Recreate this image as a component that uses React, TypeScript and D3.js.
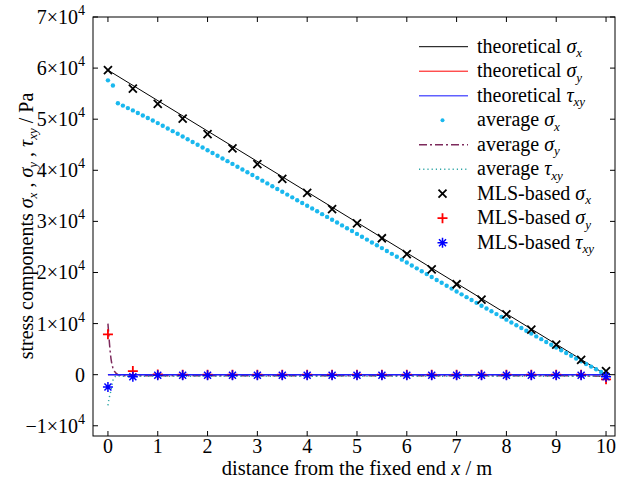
import React from "react";
import * as d3 from "d3";

// MLS sample positions and values
const xMls = [0, 0.5, 1, 1.5, 2, 2.5, 3, 3.5, 4, 4.5, 5, 5.5, 6, 6.5, 7, 7.5, 8, 8.5, 9, 9.5, 10];
const mlsSx = [59600, 56000, 53000, 50100, 47100, 44300, 41200, 38300, 35600, 32400, 29600, 26700, 23600, 20600, 17700, 14700, 11800, 8800, 5900, 2900, 700];
const mlsSy = [7900, 700, 50, 0, 0, 0, 0, 0, 0, 0, 0, 0, 0, 0, 0, 0, 0, 0, 0, 0, -900];
const mlsTxy = [-2400, -400, -100, -100, -100, -100, -100, -100, -100, -100, -100, -100, -100, -100, -100, -100, -100, -100, -100, -100, -400];

// theoretical solution
const thX = [0, 10];
const thSx = [59600, 0];
const thSy = [0, 0];
const thTxy = [0, 0];

// averaged nodal stresses
const avgX = [
  0, 0.1, 0.2, 0.3, 0.4, 0.5, 0.6, 0.7, 0.8, 0.9, 1, 1.1, 1.2, 1.3, 1.4, 1.5, 1.6, 1.7, 1.8, 1.9,
  2, 2.1, 2.2, 2.3, 2.4, 2.5, 2.6, 2.7, 2.8, 2.9, 3, 3.1, 3.2, 3.3, 3.4, 3.5, 3.6, 3.7, 3.8, 3.9,
  4, 4.1, 4.2, 4.3, 4.4, 4.5, 4.6, 4.7, 4.8, 4.9, 5, 5.1, 5.2, 5.3, 5.4, 5.5, 5.6, 5.7, 5.8, 5.9,
  6, 6.1, 6.2, 6.3, 6.4, 6.5, 6.6, 6.7, 6.8, 6.9, 7, 7.1, 7.2, 7.3, 7.4, 7.5, 7.6, 7.7, 7.8, 7.9,
  8, 8.1, 8.2, 8.3, 8.4, 8.5, 8.6, 8.7, 8.8, 8.9, 9, 9.1, 9.2, 9.3, 9.4, 9.5, 9.6, 9.7, 9.8, 9.9, 10,
];
const avgSx = [
  57600, 56600, 53110, 52660, 52170, 51720, 51220, 50730, 50230, 49740, 49240, 48710, 48190, 47660, 47140, 46610, 46070, 45540, 45000, 44470,
  43930, 43390, 42860, 42320, 41790, 41250, 40700, 40160, 39610, 39070, 38520, 37970, 37430, 36880, 36340, 35790, 35240, 34700, 34150, 33610,
  33060, 32510, 31970, 31420, 30880, 30330, 29770, 29220, 28660, 28110, 27550, 26990, 26440, 25880, 25330, 24770, 24200, 23640, 23070, 22510,
  21940, 21370, 20810, 20240, 19680, 19110, 18540, 17980, 17410, 16850, 16280, 15720, 15170, 14610, 14060, 13500, 12950, 12410, 11860, 11320,
  10770, 10220, 9680, 9130, 8590, 8040, 7490, 6950, 6400, 5860, 5310, 4770, 4240, 3700, 3170, 2630, 2100, 1580, 1050, 530, 0,
];
const avgSyX = [0, 0.02, 0.04, 0.06, 0.08, 0.1, 0.13, 0.16, 0.2, 0.3, 1, 2, 3, 4, 5, 6, 7, 8, 9, 10];
const avgSy = [10000, 7400, 5000, 3200, 2000, 1300, 700, 300, 0, -200, -200, -200, -200, -200, -200, -200, -200, -200, -200, -300];
const avgTxyX = [0, 0.02, 0.04, 0.06, 0.08, 0.1, 0.13, 0.16, 0.2, 0.3, 1, 2, 3, 4, 5, 6, 7, 8, 9, 10];
const avgTxy = [-6000, -4800, -3900, -3100, -2000, -1100, -500, -250, -250, -300, -300, -300, -300, -300, -300, -300, -300, -300, -300, -300];

const xTicks = [0, 1, 2, 3, 4, 5, 6, 7, 8, 9, 10];
const yTicks = [-1, 0, 1, 2, 3, 4, 5, 6, 7];

const FONT = "'Liberation Serif', 'Times New Roman', serif";
const W = 617;
const H = 481;
const L = 93, R = 615, T = 17, B = 436;

const C_SX_AVG = "#1ab8ee";
const C_SY_AVG = "#7d2a5c";
const C_TXY_AVG = "#2ea6a6";

type Part = { t: string; i?: boolean; sub?: boolean };

const Rich = ({ parts, x, y, anchor = "start", size = 20, rotate }: { parts: Part[]; x: number; y: number; anchor?: string; size?: number; rotate?: number }) => {
  let prevSub = false;
  return (
    <text x={x} y={y} fontFamily={FONT} fontSize={size} textAnchor={anchor} fill="#000"
      transform={rotate ? `rotate(${rotate},${x},${y})` : undefined}>
      {parts.map((p, k) => {
        let dy = 0;
        if (p.sub && !prevSub) dy = size * 0.22;
        if (!p.sub && prevSub) dy = -size * 0.22;
        prevSub = !!p.sub;
        return (
          <tspan key={k} dy={dy} fontStyle={p.i ? "italic" : "normal"} fontSize={p.sub ? size * 0.65 : size}>{p.t}</tspan>
        );
      })}
    </text>
  );
};

const Cross = ({ cx, cy }: { cx: number; cy: number }) => (
  <path d={`M${cx - 4},${cy - 4}L${cx + 4},${cy + 4}M${cx - 4},${cy + 4}L${cx + 4},${cy - 4}`} stroke="#000" strokeWidth={1.8} />
);
const Plus = ({ cx, cy }: { cx: number; cy: number }) => (
  <path d={`M${cx - 5},${cy}L${cx + 5},${cy}M${cx},${cy - 5}L${cx},${cy + 5}`} stroke="#ff0000" strokeWidth={1.8} />
);
const Star = ({ cx, cy }: { cx: number; cy: number }) => (
  <path d={`M${cx - 5},${cy}L${cx + 5},${cy}M${cx},${cy - 5}L${cx},${cy + 5}M${cx - 3.5},${cy - 3.5}L${cx + 3.5},${cy + 3.5}M${cx - 3.5},${cy + 3.5}L${cx + 3.5},${cy - 3.5}`} stroke="#0000ff" strokeWidth={1.5} />
);

const App = () => {
  const x = d3.scaleLinear().domain([-0.3, 10.18]).range([L, R]);
  const y = d3.scaleLinear().domain([-12000, 70000]).range([B, T]);
  const line = (xs: number[], vs: number[]) =>
    d3.line<number>().x((_, i) => x(xs[i])).y((v) => y(v))(vs) || "";

  const legendRows: { label: Part[]; kind: string }[] = [
    { label: [{ t: "theoretical " }, { t: "σ", i: true }, { t: "x", i: true, sub: true }], kind: "thSx" },
    { label: [{ t: "theoretical " }, { t: "σ", i: true }, { t: "y", i: true, sub: true }], kind: "thSy" },
    { label: [{ t: "theoretical " }, { t: "τ", i: true }, { t: "xy", i: true, sub: true }], kind: "thTxy" },
    { label: [{ t: "average " }, { t: "σ", i: true }, { t: "x", i: true, sub: true }], kind: "avgSx" },
    { label: [{ t: "average " }, { t: "σ", i: true }, { t: "y", i: true, sub: true }], kind: "avgSy" },
    { label: [{ t: "average " }, { t: "τ", i: true }, { t: "xy", i: true, sub: true }], kind: "avgTxy" },
    { label: [{ t: "MLS-based " }, { t: "σ", i: true }, { t: "x", i: true, sub: true }], kind: "mlsSx" },
    { label: [{ t: "MLS-based " }, { t: "σ", i: true }, { t: "y", i: true, sub: true }], kind: "mlsSy" },
    { label: [{ t: "MLS-based " }, { t: "τ", i: true }, { t: "xy", i: true, sub: true }], kind: "mlsTxy" },
  ];

  const lx0 = 419, lx1 = 468, ltx = 477, ly0 = 46.7, ldy = 24.5;
  const sample = (kind: string, cy: number) => {
    const mx = (lx0 + lx1) / 2;
    switch (kind) {
      case "thSx": return <line x1={lx0} x2={lx1} y1={cy} y2={cy} stroke="#000" strokeWidth={1} />;
      case "thSy": return <line x1={lx0} x2={lx1} y1={cy} y2={cy} stroke="#ff0000" strokeWidth={1} />;
      case "thTxy": return <line x1={lx0} x2={lx1} y1={cy} y2={cy} stroke="#6060ff" strokeWidth={1.5} />;
      case "avgSx": return <circle cx={mx - 1} cy={cy} r={2} fill={C_SX_AVG} />;
      case "avgSy": return <line x1={lx0} x2={lx1} y1={cy} y2={cy} stroke={C_SY_AVG} strokeWidth={1.5} strokeDasharray="8,3,2,3" />;
      case "avgTxy": return <line x1={lx0} x2={lx1} y1={cy} y2={cy} stroke={C_TXY_AVG} strokeWidth={1.5} strokeDasharray="1.2,3" />;
      case "mlsSx": return <Cross cx={mx - 1} cy={cy} />;
      case "mlsSy": return <Plus cx={mx - 1} cy={cy} />;
      default: return <Star cx={mx - 1} cy={cy} />;
    }
  };

  return (
    <svg width={W} height={H} style={{ position: "absolute", left: 0, top: 0, background: "#fff" }}>
      <rect x={0} y={0} width={W} height={H} fill="#fff" />
      {/* theoretical */}
      <path d={line(thX, thSx)} stroke="#000" strokeWidth={1} fill="none" />
      <path d={line(thX, thSy)} stroke="#ff0000" strokeWidth={1} fill="none" />
      {/* averages */}
      <path d={line(avgSyX, avgSy)} stroke={C_SY_AVG} strokeWidth={1.5} fill="none" strokeDasharray="8,3,2,3" />
      <path d={line(avgTxyX, avgTxy)} stroke={C_TXY_AVG} strokeWidth={1.5} fill="none" strokeDasharray="1.2,3" />
      <path d={line(thX, thTxy)} stroke="#2020ff" strokeWidth={1.5} fill="none" />
      {avgSx.map((v, i) => <circle key={i} cx={x(avgX[i])} cy={y(v)} r={2.2} fill={C_SX_AVG} />)}
      {/* MLS */}
      {mlsSx.map((v, i) => <Cross key={i} cx={x(xMls[i])} cy={y(v)} />)}
      {mlsSy.map((v, i) => <Plus key={i} cx={x(xMls[i])} cy={y(v)} />)}
      {mlsTxy.map((v, i) => <Star key={i} cx={x(xMls[i])} cy={y(v)} />)}

      {/* frame & ticks */}
      <rect x={L} y={T} width={R - L} height={B - T} fill="none" stroke="#000" strokeWidth={1} />
      {xTicks.map((t) => (
        <g key={t}>
          <line x1={x(t)} x2={x(t)} y1={B} y2={B - 5} stroke="#000" />
          <line x1={x(t)} x2={x(t)} y1={T} y2={T + 5} stroke="#000" />
          <text x={x(t)} y={453} fontFamily={FONT} fontSize={20} textAnchor="middle">{t}</text>
        </g>
      ))}
      {yTicks.map((t) => (
        <g key={t}>
          <line x1={L} x2={L + 5} y1={y(t * 10000)} y2={y(t * 10000)} stroke="#000" />
          <line x1={R} x2={R - 5} y1={y(t * 10000)} y2={y(t * 10000)} stroke="#000" />
          {t === 0 ? (
            <text x={85} y={y(0) + 7} fontFamily={FONT} fontSize={20} textAnchor="end">0</text>
          ) : (
            <text x={85} y={y(t * 10000) + 7} fontFamily={FONT} fontSize={20} textAnchor="end">
              {t < 0 ? "−1" : String(t)}×10<tspan dy={-9} fontSize={14}>4</tspan>
            </text>
          )}
        </g>
      ))}

      {/* axis titles */}
      <Rich x={357} y={475} anchor="middle" size={20.5} parts={[{ t: "distance from the fixed end " }, { t: "x", i: true }, { t: " / m" }]} />
      <Rich x={33} y={226} anchor="middle" rotate={-90} parts={[
        { t: "stress components " }, { t: "σ", i: true }, { t: "x", i: true, sub: true }, { t: " , " },
        { t: "σ", i: true }, { t: "y", i: true, sub: true }, { t: " , " },
        { t: "τ", i: true }, { t: "xy", i: true, sub: true }, { t: " / Pa" },
      ]} />

      {/* legend */}
      {legendRows.map((r, i) => {
        const cy = ly0 + i * ldy;
        return (
          <g key={r.kind}>
            {sample(r.kind, cy)}
            <Rich x={ltx} y={cy + 6} parts={r.label} />
          </g>
        );
      })}
    </svg>
  );
};

export default App;
